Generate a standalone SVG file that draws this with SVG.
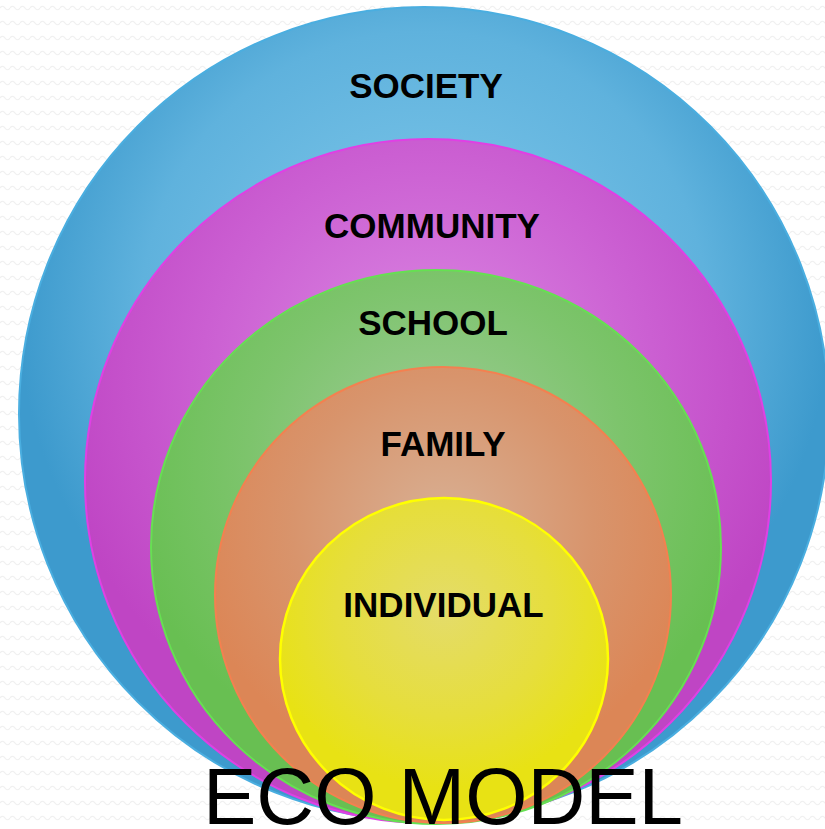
<svg xmlns="http://www.w3.org/2000/svg" width="825" height="829" viewBox="0 0 825 829">
<defs>
<pattern id="bgp" width="10" height="15" patternUnits="userSpaceOnUse">
<rect width="10" height="15" fill="#ffffff"/>
<path d="M0 8 Q2.5 4.5 5 8 T10 8" fill="none" stroke="#f0f0f0" stroke-width="1.2"/>
</pattern>
<radialGradient id="gBlue" cx="0.5" cy="0.38" r="0.5">
<stop offset="0" stop-color="#84cbec"/>
<stop offset="0.7" stop-color="#5fb2dd"/>
<stop offset="1" stop-color="#3d9acd"/>
</radialGradient>
<radialGradient id="gMag" cx="0.5" cy="0.35" r="0.55">
<stop offset="0" stop-color="#dc8ae4"/>
<stop offset="0.6" stop-color="#cb5fd2"/>
<stop offset="1" stop-color="#bf45c4"/>
</radialGradient>
<radialGradient id="gGreen" cx="0.5" cy="0.35" r="0.55">
<stop offset="0" stop-color="#a2cc9c"/>
<stop offset="0.6" stop-color="#7dc46c"/>
<stop offset="1" stop-color="#68bf52"/>
</radialGradient>
<radialGradient id="gOrange" cx="0.5" cy="0.35" r="0.55">
<stop offset="0" stop-color="#d8b094"/>
<stop offset="0.6" stop-color="#d8946c"/>
<stop offset="1" stop-color="#dc8656"/>
</radialGradient>
<radialGradient id="gYellow" cx="0.5" cy="0.35" r="0.55">
<stop offset="0" stop-color="#e4dc6a"/>
<stop offset="0.6" stop-color="#e6de3c"/>
<stop offset="1" stop-color="#e8e214"/>
</radialGradient>
</defs>
<style>
.lbl{font-family:"Liberation Sans",Arial,sans-serif;font-weight:bold;font-size:35px;fill:#000;text-anchor:middle}
.title{font-family:"Liberation Sans",Arial,sans-serif;font-size:80px;fill:#000}
</style>
<rect width="825" height="829" fill="url(#bgp)"/>
<g id="society">
<ellipse cx="424" cy="414" rx="405" ry="407" fill="url(#gBlue)" stroke="#4aaee0" stroke-width="2"/>
<text class="lbl" x="426" y="98">SOCIETY</text>
</g>
<g id="community">
<ellipse cx="428" cy="481" rx="343" ry="342" fill="url(#gMag)" stroke="#e040e4" stroke-width="2"/>
<text class="lbl" x="432" y="238">COMMUNITY</text>
</g>
<g id="school">
<ellipse cx="436" cy="547" rx="285" ry="277" fill="url(#gGreen)" stroke="#66e052" stroke-width="2"/>
<text class="lbl" x="433" y="335">SCHOOL</text>
</g>
<g id="family">
<ellipse cx="443" cy="595" rx="228" ry="228" fill="url(#gOrange)" stroke="#f48050" stroke-width="2"/>
<text class="lbl" x="443" y="456">FAMILY</text>
</g>
<g id="individual">
<ellipse cx="444" cy="659" rx="164" ry="161" fill="url(#gYellow)" stroke="#ffff00" stroke-width="2.5"/>
<text class="lbl" x="443.5" y="617">INDIVIDUAL</text>
</g>
<g id="connectors"/>
<text class="title" x="203" y="824">ECO MODEL</text>
</svg>
